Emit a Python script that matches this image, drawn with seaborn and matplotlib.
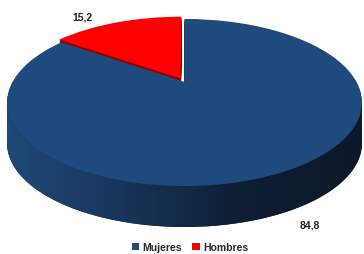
import numpy as np
import matplotlib
matplotlib.use("Agg")
import matplotlib.pyplot as plt
import seaborn as sns
from matplotlib.transforms import Transform
from matplotlib.patches import Polygon
from matplotlib.colors import LinearSegmentedColormap

# data
labels = ["Mujeres", "Hombres"]
values = [84.8, 15.2]
value_labels = ["84,8", "15,2"]
top_colors = ["#1f4a7d", "#ff0000"]
side_colors = ["#163356", "#8b0000"]
explode = [0, 0.05]

# geometry of the tilted pie (in pixels)
W, H = 364, 255
CX, CY = 184.5, 83
A, B, P = 172, 78.5, 0.245
DEPTH = 41

sns.set_style("white")
plt.rcParams['font.family'] = ['Liberation Sans', 'DejaVu Sans']


def proj(x, y, dz=0):
    w = 1 + P * y
    return CX + A * x / w, CY - B * y / w + dz


class Tilt(Transform):
    input_dims = output_dims = 2

    def __init__(self, dz=0):
        super().__init__()
        self.dz = dz

    def transform_non_affine(self, pts):
        pts = np.asarray(pts, float)
        X, Y = proj(pts[:, 0], pts[:, 1], self.dz)
        return np.column_stack([X, Y])


fig = plt.figure(figsize=(W / 100, H / 100), dpi=100)
ax = fig.add_axes([0, 0, 1, 1])

# side of the cylinder: stacked copies shifted downward
for dz in range(DEPTH, 0, -1):
    wedges, _ = ax.pie(values, startangle=90, counterclock=False, explode=explode,
                       colors=side_colors, wedgeprops=dict(linewidth=0))
    for wdg in wedges:
        wdg.set_transform(Tilt(dz) + ax.transData)

# horizontal shading on the visible front wall
phi = np.linspace(np.pi + np.arcsin(P), 2 * np.pi - np.arcsin(P), 300)
ux, uy = proj(np.cos(phi), np.sin(phi), 0)
lx, ly = proj(np.cos(phi), np.sin(phi), DEPTH)
wall = Polygon(np.column_stack([np.r_[ux, lx[::-1]], np.r_[uy, ly[::-1]]]),
               closed=True, transform=ax.transData, facecolor="none", edgecolor="none")
ax.add_patch(wall)
shade = LinearSegmentedColormap.from_list("shade", ["#204a7a", "#173559", "#0e1e33", "#0b1829"])
img = ax.imshow(np.linspace(0, 1, 256)[None, :], cmap=shade, aspect="auto",
                extent=(0, W, H, 0), interpolation="bilinear", zorder=1)
img.set_clip_path(wall)

# top face
top, _ = ax.pie(values, startangle=90, counterclock=False, explode=explode,
                colors=top_colors, wedgeprops=dict(linewidth=0))
for wdg in top:
    wdg.set_transform(Tilt(0) + ax.transData)
    wdg.set_zorder(2)

# value labels
ax.text(310, 226, value_labels[0], ha="center", va="center", fontsize=7.5,
        fontweight="bold", color="#222222")
ax.text(82, 18, value_labels[1], ha="center", va="center", fontsize=7.5,
        fontweight="bold", color="#222222")

ax.set_xlim(0, W)
ax.set_ylim(H, 0)
ax.set_aspect("auto")
ax.axis("off")

ax.legend(top, labels, loc="center", bbox_to_anchor=(190 / W, 1 - 248 / H), ncol=2,
          frameon=False, handlelength=0.7, handleheight=0.7, handletextpad=0.3,
          columnspacing=1.0, borderaxespad=0,
          prop={"weight": "bold", "size": 7.5})

fig.savefig("out.png", dpi=100)
